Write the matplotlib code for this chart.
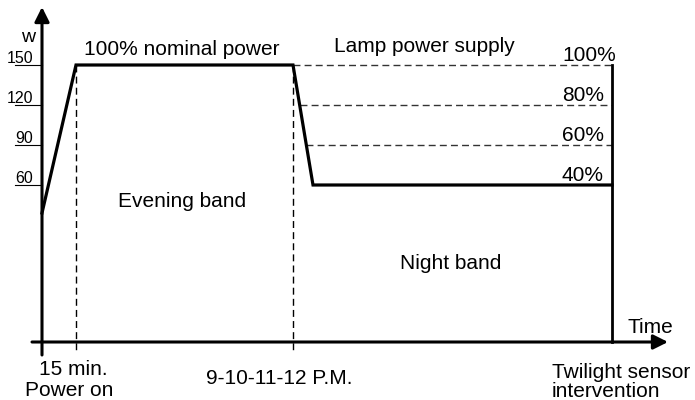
import matplotlib
matplotlib.use("Agg")
import matplotlib.pyplot as plt

plt.rcParams['font.family'] = ['Liberation Sans', 'DejaVu Sans']

# schematic time positions (power on, +15 min, 9-12 PM, end of dimming, twilight sensor)
t_points = [42, 76, 293, 313, 612]
# lamp power in W at those points
power_w = [39, 150, 150, 60, 60]

levels_w = [150, 120, 90, 60]
level_pct = ["100%", "80%", "60%", "40%"]

axis_w = -57.75      # where the time axis sits (schematic)
bottom_w = -67.5     # lower end of the vertical lines

fig = plt.figure(figsize=(6.95, 4.0), dpi=100)
ax = fig.add_axes([0, 0, 1, 1])
ax.set_xlim(0, 695)
ax.set_ylim(-101.25, 198.75)
ax.axis("off")

# axes with arrows
ax.annotate("", xy=(t_points[0], 193.5), xytext=(t_points[0], bottom_w),
            arrowprops=dict(arrowstyle="-|>", lw=2.2, color="k",
                            mutation_scale=22, shrinkA=0, shrinkB=0))
ax.annotate("", xy=(668, axis_w), xytext=(32, axis_w),
            arrowprops=dict(arrowstyle="-|>", lw=2.2, color="k",
                            mutation_scale=22, shrinkA=0, shrinkB=0))

# y ticks with labels sitting on them
for w in levels_w:
    ax.plot([15, t_points[0]], [w, w], color="k", lw=0.8)
    ax.text(33, w + 1.5, str(w), ha="right", va="baseline", fontsize=11.5)
ax.text(28, 167.25, "w", ha="center", va="baseline", fontsize=14)

# dashed guides
dash = (0, (5, 3))
for t in [t_points[1], t_points[2]]:
    ax.plot([t, t], [150, -66], color="k", lw=1, linestyle=dash)
for w in levels_w[:-1]:
    # start on the dimming ramp
    frac = (150 - w) / (150 - 60)
    t0 = t_points[2] + frac * (t_points[3] - t_points[2])
    ax.plot([t0, t_points[4]], [w, w], color="#333333", lw=1, linestyle=dash)

# twilight sensor line
ax.plot([t_points[4], t_points[4]], [150, axis_w], color="k", lw=2)

# power profile
ax.plot(t_points, power_w, color="k", lw=2.3, solid_joinstyle="miter")

for w, lab in zip(levels_w, level_pct):
    ax.text(562, w + 3, lab, ha="left", va="baseline", fontsize=15)

fs = 15
ax.text(181.5, 157.5, "100% nominal power", ha="center", va="baseline", fontsize=fs)
ax.text(424.5, 159.75, "Lamp power supply", ha="center", va="baseline", fontsize=fs)
ax.text(182, 43.5, "Evening band", ha="center", va="baseline", fontsize=fs)
ax.text(451, -3, "Night band", ha="center", va="baseline", fontsize=fs)
ax.text(650, -51, "Time", ha="center", va="baseline", fontsize=fs)
ax.text(73.5, -82.5, "15 min.", ha="center", va="baseline", fontsize=fs)
ax.text(69.5, -98.25, "Power on", ha="center", va="baseline", fontsize=fs)
ax.text(279, -89.25, "9-10-11-12 P.M.", ha="center", va="baseline", fontsize=fs)
ax.text(552, -84.75, "Twilight sensor", ha="left", va="baseline", fontsize=fs)
ax.text(552, -99, "intervention", ha="left", va="baseline", fontsize=fs)

fig.savefig("out.png", dpi=100)
